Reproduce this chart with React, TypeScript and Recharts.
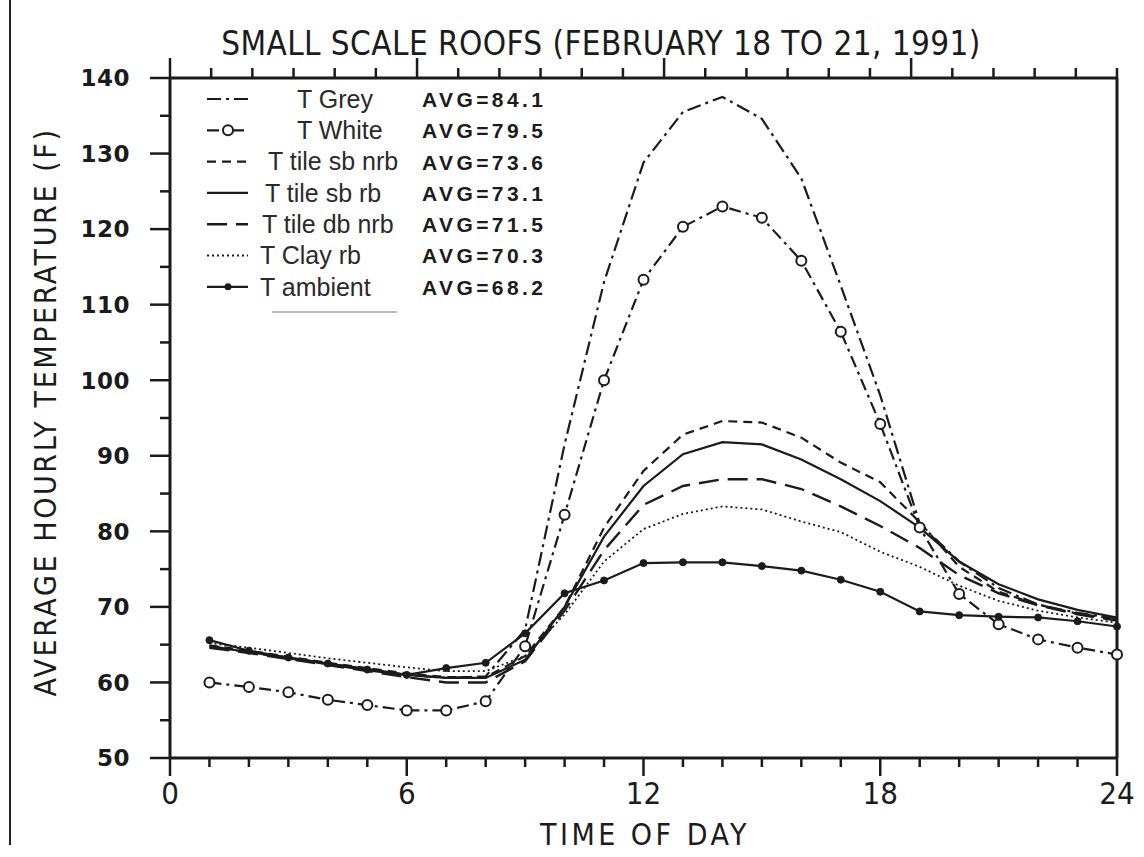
import { LineChart, Line, XAxis, YAxis } from 'recharts';

// hourly averages (deg F)
const hours = [1, 2, 3, 4, 5, 6, 7, 8, 9, 10, 11, 12, 13, 14, 15, 16, 17, 18, 19, 20, 21, 22, 23, 24];
const tGrey = [64.8, 64.0, 63.2, 62.4, 61.6, 61.0, 60.6, 60.8, 67.0, 91.5, 113.0, 128.8, 135.5, 137.5, 134.6, 126.7, 112.5, 98.0, 81.0, 76.0, 72.5, 70.3, 69.2, 68.5];
const tWhite = [60.0, 59.4, 58.7, 57.7, 57.0, 56.3, 56.3, 57.5, 64.8, 82.2, 100.0, 113.3, 120.3, 123.0, 121.5, 115.8, 106.4, 94.2, 80.5, 71.7, 67.7, 65.7, 64.6, 63.7];
const tTileSbNrb = [64.9, 64.2, 63.4, 62.6, 61.9, 61.2, 60.7, 60.7, 63.5, 70.0, 80.5, 88.0, 92.8, 94.6, 94.4, 92.4, 89.1, 86.5, 81.2, 75.3, 72.0, 70.3, 69.1, 68.4];
const tTileSbRb = [64.8, 64.0, 63.3, 62.5, 61.8, 61.0, 60.6, 60.6, 63.0, 70.0, 79.3, 86.0, 90.2, 91.8, 91.5, 89.5, 86.9, 84.0, 80.5, 76.0, 73.0, 71.0, 69.6, 68.6];
const tTileDbNrb = [64.6, 63.9, 63.1, 62.3, 61.5, 60.7, 60.0, 60.0, 62.8, 69.5, 77.5, 83.5, 86.0, 86.9, 86.9, 85.6, 83.3, 80.7, 77.8, 74.2, 71.8, 70.2, 69.0, 68.2];
const tClayRb = [65.2, 64.6, 63.9, 63.2, 62.6, 62.0, 61.5, 61.5, 63.5, 69.0, 76.0, 80.3, 82.3, 83.3, 82.9, 81.3, 79.9, 77.3, 75.3, 72.8, 70.8, 69.5, 68.6, 67.9];
const tAmbient = [65.6, 64.2, 63.3, 62.5, 61.7, 61.0, 61.9, 62.6, 66.5, 71.8, 73.5, 75.8, 75.9, 75.9, 75.4, 74.8, 73.6, 72.0, 69.4, 68.9, 68.7, 68.6, 68.1, 67.4];

const seriesNames = ['T Grey', 'T White', 'T tile sb nrb', 'T tile sb rb', 'T tile db nrb', 'T Clay rb', 'T ambient'];
const seriesAvg = [84.1, 79.5, 73.6, 73.1, 71.5, 70.3, 68.2];

const xTicks = [0, 1, 2, 3, 4, 5, 6, 7, 8, 9, 10, 11, 12, 13, 14, 15, 16, 17, 18, 19, 20, 21, 22, 23, 24];
const yTicks = [50, 55, 60, 65, 70, 75, 80, 85, 90, 95, 100, 105, 110, 115, 120, 125, 130, 135, 140];

const INK = '#1b1b1b';
const NARROW = "'Liberation Sans Narrow', 'DejaVu Sans Condensed', sans-serif";

const data = hours.map((h, i) => ({
  hour: h,
  grey: tGrey[i],
  white: tWhite[i],
  sbNrb: tTileSbNrb[i],
  sbRb: tTileSbRb[i],
  dbNrb: tTileDbNrb[i],
  clay: tClayRb[i],
  ambient: tAmbient[i],
}));

// line styling per series, same order as seriesNames
const styles = [
  { key: 'grey', dash: '14 5 3 5', width: 2.2, marker: 'none' },
  { key: 'white', dash: '12 5 3 5', width: 2.2, marker: 'circle' },
  { key: 'sbNrb', dash: '9 6', width: 2.2, marker: 'none' },
  { key: 'sbRb', dash: undefined, width: 2.2, marker: 'none' },
  { key: 'dbNrb', dash: '20 9', width: 2.4, marker: 'none' },
  { key: 'clay', dash: '2 3', width: 1.8, marker: 'none' },
  { key: 'ambient', dash: undefined, width: 2.2, marker: 'dot' },
];

// legend label left edges (the original text is not aligned)
const legendTextX = [297, 297, 268, 265, 262, 260, 260];

const dotFor = (marker: string) => {
  if (marker === 'circle') return { r: 5, fill: '#fff', stroke: INK, strokeWidth: 2, strokeDasharray: '' };
  if (marker === 'dot') return { r: 3.5, fill: INK, stroke: INK, strokeWidth: 1 };
  return false;
};

const BottomTick = (props: any) => {
  const { x, y, payload } = props;
  const major = payload.value % 6 === 0;
  return (
    <g>
      <line x1={x} x2={x} y1={y} y2={y + (major ? 18 : 9)} stroke={INK} strokeWidth={2.5} />
      {major && (
        <text x={x} y={y + 46} textAnchor="middle" fontFamily={NARROW} fontSize={31} fill={INK}>
          {payload.value}
        </text>
      )}
    </g>
  );
};

const TopTick = (props: any) => {
  const { x, y, payload } = props;
  const major = payload.value % 6 === 0;
  return <line x1={x} x2={x} y1={y} y2={y - (major ? 20 : 10)} stroke={INK} strokeWidth={2.5} />;
};

const LeftTick = (props: any) => {
  const { x, y, payload } = props;
  const major = payload.value % 10 === 0;
  return (
    <g>
      <line x1={x} x2={x - (major ? 20 : 10)} y1={y} y2={y} stroke={INK} strokeWidth={2.5} />
      {major && (
        <text x={x - 40} y={y} dy="0.36em" textAnchor="end" fontFamily="'DejaVu Sans', sans-serif" fontWeight="bold" fontSize={23} letterSpacing={0.5} fill={INK}>
          {payload.value}
        </text>
      )}
    </g>
  );
};

const RightTick = (props: any) => {
  const { x, y, payload } = props;
  const major = payload.value % 10 === 0;
  return <line x1={x} x2={x + (major ? 20 : 10)} y1={y} y2={y} stroke={INK} strokeWidth={2.5} />;
};

export default function App() {
  const axisLine = { stroke: INK, strokeWidth: 3 };
  return (
    <div style={{ position: 'absolute', left: 0, top: 0, width: 1144, height: 857, background: '#fff' }}>
      <LineChart width={1144} height={857} data={data} margin={{ top: 0, right: 0, bottom: 0, left: 0 }}>
        <XAxis
          dataKey="hour"
          type="number"
          domain={[0, 24]}
          ticks={xTicks}
          interval={0}
          height={99}
          tickSize={0}
          tickMargin={0}
          tickLine={false}
          axisLine={axisLine}
          tick={BottomTick}
        />
        <XAxis
          xAxisId="top"
          orientation="top"
          type="number"
          domain={[0, 24]}
          ticks={xTicks}
          interval={0}
          height={78}
          tickSize={0}
          tickMargin={0}
          tickLine={false}
          axisLine={axisLine}
          tick={TopTick}
        />
        <YAxis
          type="number"
          domain={[50, 140]}
          ticks={yTicks}
          interval={0}
          width={170}
          tickSize={0}
          tickMargin={0}
          tickLine={false}
          axisLine={axisLine}
          tick={LeftTick}
        />
        <YAxis
          yAxisId="right"
          orientation="right"
          type="number"
          domain={[50, 140]}
          ticks={yTicks}
          interval={0}
          width={27}
          tickSize={0}
          tickMargin={0}
          tickLine={false}
          axisLine={axisLine}
          tick={RightTick}
        />
        {styles.map((s, i) => (
          <Line
            key={s.key}
            type="linear"
            dataKey={s.key}
            name={seriesNames[i]}
            stroke={INK}
            strokeWidth={s.width}
            strokeDasharray={s.dash}
            dot={dotFor(s.marker)}
            activeDot={false}
            isAnimationActive={false}
          />
        ))}
      </LineChart>

      {/* title, axis titles and the hand-made legend */}
      <svg width={1144} height={857} style={{ position: 'absolute', left: 0, top: 0, pointerEvents: 'none' }}>
        <line x1={10} x2={10} y1={0} y2={845} stroke="#222" strokeWidth={2} />
        <text x={601} y={55} textAnchor="middle" fontFamily={NARROW} fontSize={33} letterSpacing={0.4} fill={INK}>
          SMALL SCALE ROOFS (FEBRUARY 18 TO 21, 1991)
        </text>
        <text
          x={45}
          y={412}
          transform="rotate(-90, 45, 412)"
          textAnchor="middle"
          dominantBaseline="central"
          fontFamily={NARROW}
          fontSize={30}
          letterSpacing={2.6}
          fill={INK}
        >
          AVERAGE HOURLY TEMPERATURE (F)
        </text>
        <text x={645} y={845} textAnchor="middle" fontFamily={NARROW} fontSize={30} letterSpacing={3.5} fill={INK}>
          TIME OF DAY
        </text>

        {seriesNames.map((name, i) => {
          const s = styles[i];
          const y = 99 + i * 31.3;
          return (
            <g key={name}>
              <line x1={207} x2={248} y1={y} y2={y} stroke={INK} strokeWidth={s.width} strokeDasharray={s.dash} />
              {s.marker === 'circle' && <circle cx={228} cy={y} r={5} fill="#fff" stroke={INK} strokeWidth={2} />}
              {s.marker === 'dot' && <circle cx={228} cy={y} r={3.5} fill={INK} />}
              <text x={legendTextX[i]} y={y} dy="0.35em" fontFamily="'Liberation Sans', Arial, sans-serif" fontSize={25} fill="#2a2a2a">
                {name}
              </text>
              <text x={422} y={y} dy="0.38em" fontFamily="'Liberation Sans', Arial, sans-serif" fontWeight="bold" fontSize={21} letterSpacing={3.4} fill={INK}>
                {`AVG=${seriesAvg[i].toFixed(1)}`}
              </text>
            </g>
          );
        })}
        <line x1={272} x2={397} y1={312} y2={312} stroke="#bbb" strokeWidth={2} />
      </svg>
    </div>
  );
}
